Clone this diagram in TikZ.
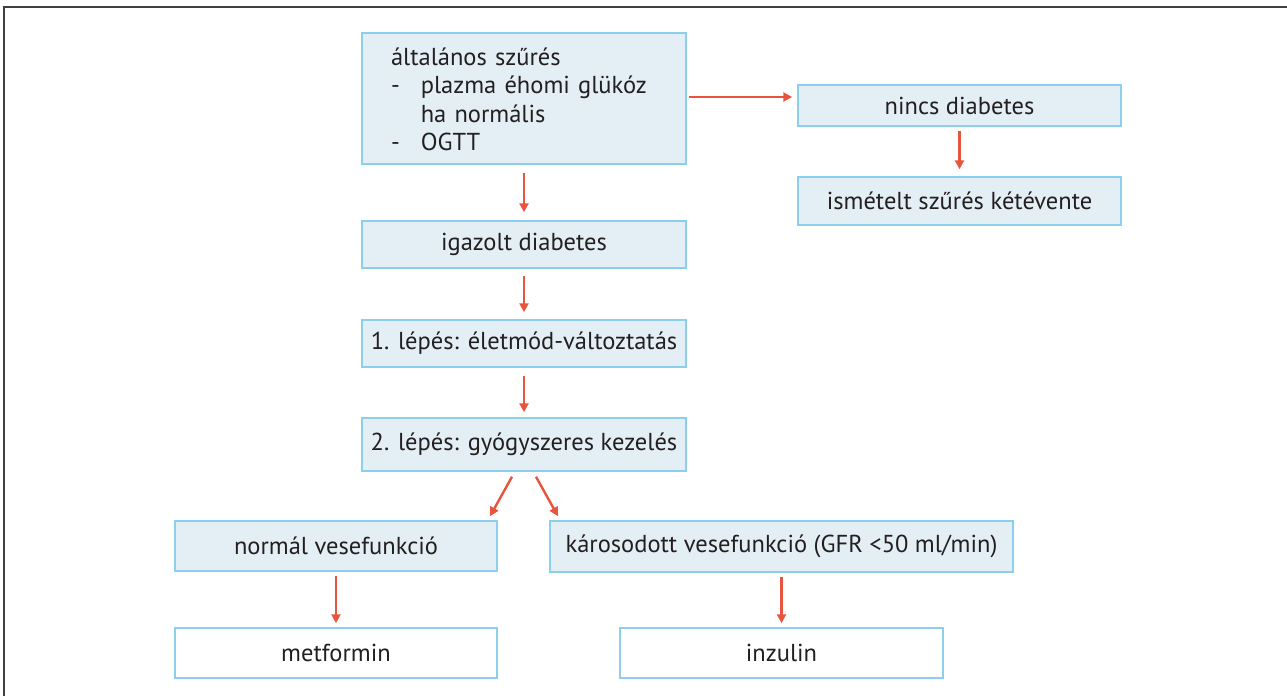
\documentclass[tikz,border=0pt]{standalone}
\usepackage{fontspec}
\setmainfont{PT Sans}
\usetikzlibrary{arrows.meta}
\definecolor{boxfill}{RGB}{228,239,245}
\definecolor{boxline}{RGB}{140,206,238}
\definecolor{arrowred}{RGB}{232,84,62}
\definecolor{txt}{RGB}{35,31,32}
\tikzset{
  box/.style={draw=boxline, line width=1.5pt, fill=boxfill, text=txt, inner sep=0pt,
    font=\fontsize{24.5}{28.5}\selectfont},
  endbox/.style={box, fill=white},
  arr/.style={draw=arrowred, line width=2.4pt, -{Triangle[length=9pt,width=9pt]}},
}
\begin{document}
\begin{tikzpicture}[x=1pt,y=-1pt]
            \useasboundingbox (0,0) rectangle (1287,696);
            \draw[line width=2pt, black!75] (4,696) -- (4,7) -- (1287,7);
            \node[box, minimum width=324, minimum height=131, text width=266, inner xsep=29, align=left] (screen) at (524,98.5)
              {\raisebox{-4pt}[\height][\depth]{\begin{tabular}{@{}l@{\hspace{21pt}}l@{}}
               \multicolumn{2}{@{}l}{általános szűrés}\\
               - & plazma éhomi glükóz\\
                 & ha normális\\
               - & OGTT
               \end{tabular}}};
            \node[box, minimum width=323, minimum height=41] (nodiab) at (959.5,105.5) {nincs diabetes};
            \node[box, minimum width=323, minimum height=48] (repeat) at (959.5,201) {ismételt szűrés kétévente};
            \node[box, minimum width=324, minimum height=47] (confirmed) at (524,244.5) {igazolt diabetes};
            \node[box, minimum width=324, minimum height=47] (stepone) at (524,343.5) {1. lépés: életmód-változtatás};
            \node[box, minimum width=324, minimum height=53] (steptwo) at (524,444.5) {2. lépés: gyógyszeres kezelés};
            \node[box, minimum width=322, minimum height=50] (normal) at (336,546) {normál vesefunkció};
            \node[box, minimum width=463, minimum height=51] (impaired) at (781.5,546.5) {károsodott vesefunkció (GFR <50 ml/min)};
            \node[endbox, minimum width=322, minimum height=50] (metformin) at (336,653) {metformin};
            \node[endbox, minimum width=323, minimum height=50] (insulin) at (781.5,653) {inzulin};
            \draw[arr] (screen.east |- 0,97) ++(2,0) -- ([xshift=-5pt]nodiab.west |- 0,97);
            \draw[arr] ([yshift=-8pt]screen.south) -- ([yshift=8pt]confirmed.north);
            \draw[arr] ([yshift=-4pt]nodiab.south) -- ([yshift=7pt]repeat.north);
            \draw[arr] ([yshift=-7pt]confirmed.south) -- ([yshift=7pt]stepone.north);
            \draw[arr] ([yshift=-8pt]stepone.south) -- ([yshift=5pt]steptwo.north);
            \draw[arr] ([xshift=-12pt,yshift=-5pt]steptwo.south) -- ([xshift=-34pt,yshift=4pt]steptwo.south |- normal.north);
            \draw[arr] ([xshift=12pt,yshift=-5pt]steptwo.south) -- ([xshift=34pt,yshift=4pt]steptwo.south |- impaired.north);
            \draw[arr] ([yshift=-4pt]normal.south) -- ([yshift=4pt]metformin.north);
            \draw[arr] ([yshift=-4pt]impaired.south) -- ([yshift=4pt]insulin.north);
        \end{tikzpicture}
\end{document}
